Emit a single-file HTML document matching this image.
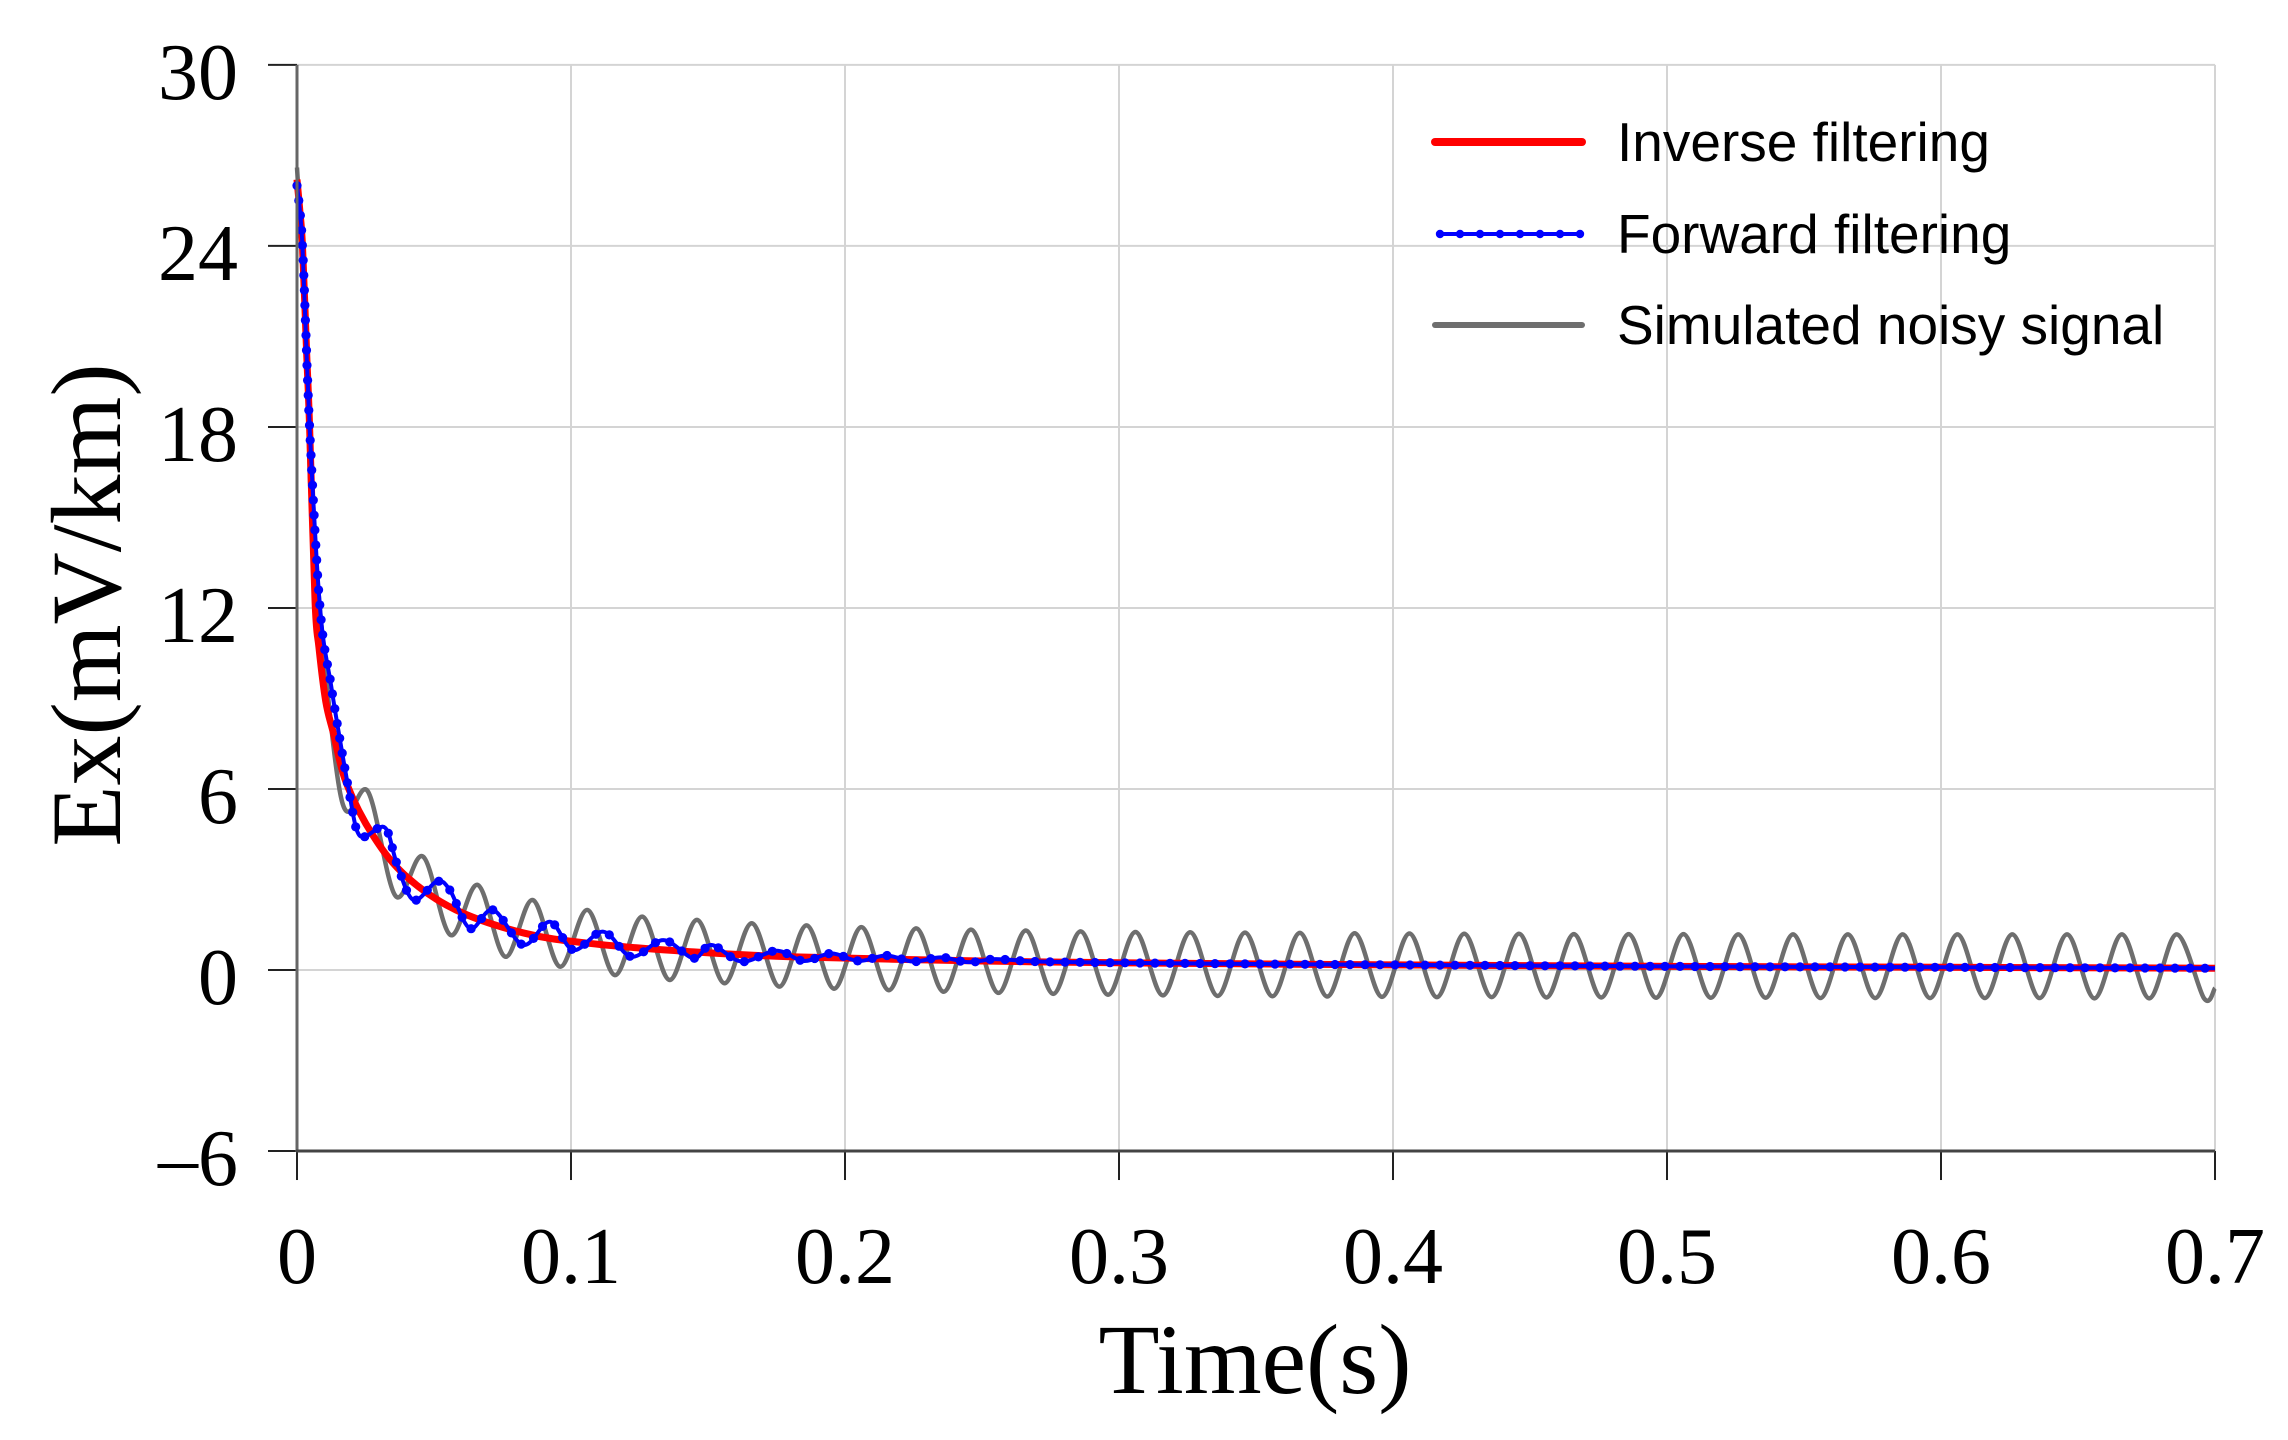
<!DOCTYPE html>
<html><head><meta charset="utf-8"><style>
html,body{margin:0;padding:0;background:#fff;}
svg{display:block;}
</style></head><body>
<svg id="chart" width="2288" height="1440" viewBox="0 0 2288 1440" xmlns="http://www.w3.org/2000/svg">
<g id="grid"></g>
<g id="series"></g>
<g id="axes"></g>
<text x="1255" y="1393" text-anchor="middle" font-family="Liberation Serif, serif" font-size="100">Time(s)</text>
<text transform="translate(120,605) rotate(-90)" text-anchor="middle" font-family="Liberation Serif, serif" font-size="100">Ex(mV/km)</text>
<g font-family="Liberation Sans, sans-serif" font-size="55">
  <g>
    <line x1="1435" y1="142" x2="1582" y2="142" stroke="#ff0000" stroke-width="8" stroke-linecap="round"/>
    <text x="1617" y="161">Inverse filtering</text>
  </g>
  <g id="legFwd">
    <line x1="1437" y1="234" x2="1580" y2="234" stroke="#0000ff" stroke-width="4"/>
    <text x="1617" y="253">Forward filtering</text>
  </g>
  <g>
    <line x1="1435" y1="325" x2="1582" y2="325" stroke="#6e6e6e" stroke-width="6" stroke-linecap="round"/>
    <text x="1617" y="344">Simulated noisy signal</text>
  </g>
</g>
</svg>
<script>
const xTicks = [0, 0.1, 0.2, 0.3, 0.4, 0.5, 0.6, 0.7];
const xTickLabels = ["0", "0.1", "0.2", "0.3", "0.4", "0.5", "0.6", "0.7"];
const yTicks = [-6, 0, 6, 12, 18, 24, 30];
const yTickLabels = ["\u20136", "0", "6", "12", "18", "24", "30"];

const invT = [0, 0.001, 0.002, 0.0035, 0.0046, 0.0066, 0.008, 0.0105, 0.0133, 0.018, 0.028, 0.04, 0.058, 0.083, 0.107, 0.143, 0.18, 0.25, 0.3, 0.4, 0.5, 0.6, 0.7];
const invV = [26.2, 25.2, 24, 20.5, 18, 12.2, 10.7, 8.9, 7.85, 6.2, 4.42, 3.09, 1.99, 1.22, 0.88, 0.61, 0.44, 0.3, 0.24, 0.17, 0.12, 0.09, 0.06];

const fwdT = [0, 0.002, 0.0046, 0.0084, 0.0125, 0.0157, 0.0193, 0.0218, 0.0248, 0.0321, 0.0364, 0.0425, 0.051, 0.0558, 0.0631, 0.0716, 0.0826, 0.0923, 0.1009, 0.1118, 0.1221, 0.1337, 0.1447, 0.1513, 0.1623, 0.175, 0.185, 0.195, 0.205, 0.215, 0.225, 0.235, 0.245, 0.255, 0.27, 0.3, 0.35, 0.4, 0.5, 0.6, 0.7];
const fwdV = [26, 24, 18, 12, 9.4, 7.62, 5.75, 4.64, 4.42, 4.72, 3.54, 2.32, 2.93, 2.65, 1.38, 1.99, 0.83, 1.6, 0.66, 1.27, 0.44, 0.99, 0.39, 0.83, 0.28, 0.64, 0.3, 0.55, 0.3, 0.48, 0.28, 0.42, 0.26, 0.36, 0.28, 0.24, 0.2, 0.17, 0.12, 0.09, 0.06];

const noisyT = [0, 0.002, 0.004, 0.006, 0.016, 0.026, 0.036, 0.046, 0.056, 0.066, 0.076, 0.086, 0.096, 0.106, 0.116, 0.126, 0.136, 0.146, 0.156, 0.166, 0.176, 0.186, 0.196, 0.206, 0.216, 0.226, 0.236, 0.246, 0.256, 0.266, 0.276, 0.286, 0.296, 0.306, 0.316, 0.326, 0.336, 0.346, 0.356, 0.366, 0.376, 0.386, 0.396, 0.406, 0.416, 0.426, 0.436, 0.446, 0.456, 0.466, 0.476, 0.486, 0.496, 0.506, 0.516, 0.526, 0.536, 0.546, 0.556, 0.566, 0.576, 0.586, 0.596, 0.606, 0.616, 0.626, 0.636, 0.646, 0.656, 0.666, 0.676, 0.686, 0.696, 0.7];
const noisyV = [26.6, 23.5, 18.8, 14.5, 5.75, 5.9, 2.45, 3.76, 1.16, 2.82, 0.44, 2.32, 0.11, 1.99, -0.17, 1.77, -0.33, 1.66, -0.44, 1.55, -0.55, 1.48, -0.62, 1.42, -0.67, 1.38, -0.72, 1.34, -0.76, 1.31, -0.79, 1.28, -0.82, 1.26, -0.84, 1.25, -0.86, 1.24, -0.87, 1.23, -0.88, 1.22, -0.89, 1.21, -0.9, 1.2, -0.9, 1.2, -0.91, 1.19, -0.91, 1.19, -0.92, 1.19, -0.92, 1.18, -0.92, 1.18, -0.93, 1.18, -0.93, 1.18, -0.93, 1.18, -0.93, 1.18, -0.93, 1.18, -0.94, 1.18, -0.94, 1.18, -0.94, -0.6];

const NS = "http://www.w3.org/2000/svg";
const X0 = 297, XPX = 2740, Y0 = 970, YPX = 30.17;
function xs(t){ return X0 + t * XPX; }
function ys(v){ return Y0 - v * YPX; }
function mk(tag, attrs, parent){
  const e = document.createElementNS(NS, tag);
  for (const k in attrs) e.setAttribute(k, attrs[k]);
  parent.appendChild(e);
  return e;
}
function pathFrom(T, V){
  const p = T.map((t,i)=>[xs(t), ys(V[i])]);
  let d = "M" + p[0][0].toFixed(2) + "," + p[0][1].toFixed(2);
  for (let i=0;i<p.length-1;i++){
    const a = p[Math.max(i-1,0)], b = p[i], c = p[i+1], e = p[Math.min(i+2,p.length-1)];
    const c1 = [b[0]+(c[0]-a[0])/6, b[1]+(c[1]-a[1])/6];
    const c2 = [c[0]-(e[0]-b[0])/6, c[1]-(e[1]-b[1])/6];
    d += "C"+c1[0].toFixed(2)+","+c1[1].toFixed(2)+" "+c2[0].toFixed(2)+","+c2[1].toFixed(2)+" "+c[0].toFixed(2)+","+c[1].toFixed(2);
  }
  return d;
}
const grid = document.getElementById("grid");
const axes = document.getElementById("axes");
const series = document.getElementById("series");
const yTop = ys(yTicks[yTicks.length-1]), yBot = ys(yTicks[0]);
const xL = xs(xTicks[0]), xR = xs(xTicks[xTicks.length-1]);

xTicks.forEach((t,i)=>{
  if (i>0){
    const g = mk("line",{x1:xs(t),x2:xs(t),y1:yTop,y2:yBot,stroke:"#d4d4d4","stroke-width":2},grid);
    
    
  }
  const tk = mk("line",{x1:xs(t),x2:xs(t),y1:yBot,y2:yBot+29,stroke:"#222","stroke-width":2},axes);
  
  
  const lb = mk("text",{x:xs(t),y:1283,"text-anchor":"middle","font-family":"Liberation Serif, serif","font-size":80},axes);
  lb.textContent = xTickLabels[i];
  
  
});
yTicks.forEach((v,i)=>{
  if (i>0){
    const g = mk("line",{x1:xL,x2:xR,y1:ys(v),y2:ys(v),stroke:"#d4d4d4","stroke-width":2},grid);
    
    
  }
  const tk = mk("line",{x1:xL-29,x2:xL,y1:ys(v),y2:ys(v),stroke:"#222","stroke-width":2},axes);
  
  
  const lb = mk("text",{x:238,y:ys(v)+34,"text-anchor":"end","font-family":"Liberation Serif, serif","font-size":80},axes);
  lb.textContent = yTickLabels[i];
  
  
});
const ax1 = mk("line",{x1:xL,x2:xL,y1:yTop,y2:yBot+1,stroke:"#666","stroke-width":3},axes);


const ax2 = mk("line",{x1:xL-1,x2:xR,y1:yBot,y2:yBot,stroke:"#444","stroke-width":3},axes);



const gp = mk("path",{d:pathFrom(noisyT,noisyV),fill:"none",stroke:"#6e6e6e","stroke-width":4.5,"stroke-linejoin":"round"},series);


const rp = mk("path",{d:pathFrom(invT,invV),fill:"none",stroke:"#ff0000","stroke-width":7,"stroke-linejoin":"round"},series);


const bp = mk("path",{d:pathFrom(fwdT,fwdV),fill:"none",stroke:"#0000ff","stroke-width":4,"stroke-linejoin":"round"},series);


const dots = mk("g",{fill:"#0000ff"},series);


const L = bp.getTotalLength();
for (let s=0; s<=L; s+=15){
  const pt = bp.getPointAtLength(s);
  const c = mk("circle",{cx:pt.x.toFixed(1),cy:pt.y.toFixed(1),r:4.6},dots);
  
  
}
const leg = document.getElementById("legFwd");
for (let x=1440; x<=1580; x+=20){
  const c = mk("circle",{cx:x,cy:234,r:4.2,fill:"#0000ff"},leg);
  
  
}
</script>
</body></html>
